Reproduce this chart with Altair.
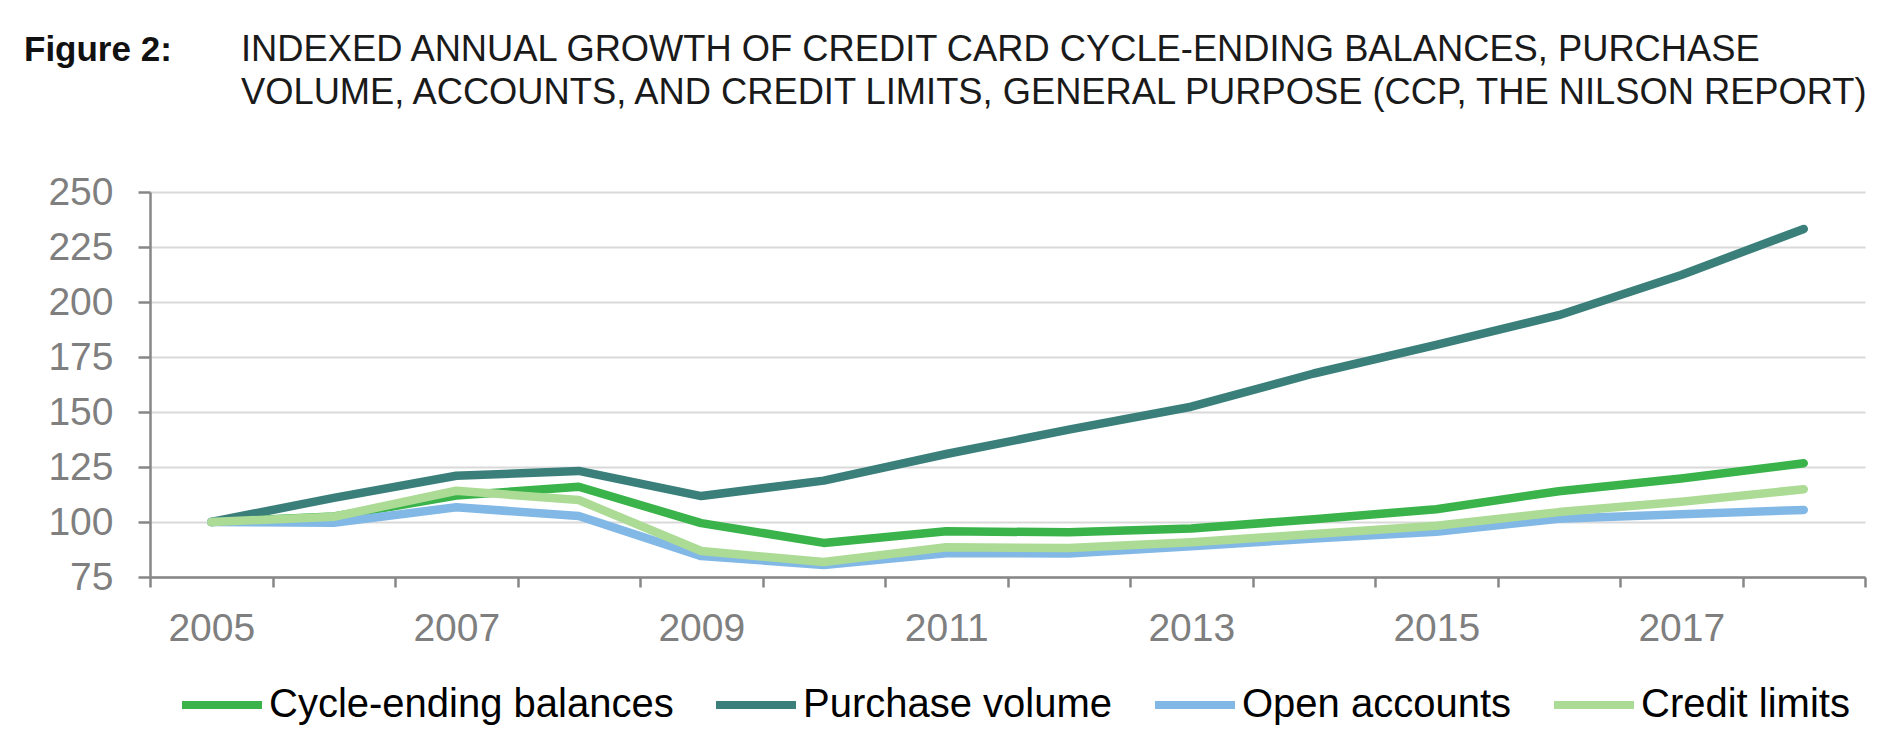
import altair as alt
import pandas as pd

FONT = "Liberation Sans, Arial, Helvetica, sans-serif"

# ---- data ----
years = [2005, 2006, 2007, 2008, 2009, 2010, 2011, 2012, 2013, 2014, 2015, 2016, 2017, 2018]
series_names = ["Cycle-ending balances", "Purchase volume", "Open accounts", "Credit limits"]
cycle_ending = [100, 102.5, 112, 116, 99.5, 90.5, 95.8, 95.3, 97, 101.3, 105.8, 114, 119.8, 126.7]
purchase_volume = [100, 111, 121, 123.2, 111.8, 118.8, 130.9, 142, 152.4, 167.5, 180.5, 194, 212.3, 233.2]
open_accounts = [100, 99.7, 106.7, 102.7, 84.5, 80.5, 85.8, 85.7, 89, 92.5, 95.6, 101.5, 103.5, 105.5]
credit_limits = [100, 102.4, 114.2, 110, 86.8, 81.8, 88.5, 88.2, 90.8, 94.5, 98.3, 104.5, 109.2, 114.9]
series_colors = ["#39b34a", "#3a7f7a", "#82b8e5", "#acdb96"]

y_ticks = [75, 100, 125, 150, 175, 200, 225, 250]
x_label_years = [2005, 2007, 2009, 2011, 2013, 2015, 2017]
x_band_edges = [2004.5, 2005.5, 2006.5, 2007.5, 2008.5, 2009.5, 2010.5, 2011.5,
                2012.5, 2013.5, 2014.5, 2015.5, 2016.5, 2017.5, 2018.5]

figure_label = "Figure 2:"
title_lines = [
    "INDEXED ANNUAL GROWTH OF CREDIT CARD CYCLE-ENDING BALANCES, PURCHASE",
    "VOLUME, ACCOUNTS, AND CREDIT LIMITS, GENERAL PURPOSE (CCP, THE NILSON REPORT)",
]

# ---- build table ----
rows = []
for name, vals in zip(series_names, [cycle_ending, purchase_volume, open_accounts, credit_limits]):
    for yr, v in zip(years, vals):
        rows.append({"series": name, "year": yr, "value": v})
df = pd.DataFrame(rows)

AXIS_GRAY = "#878787"
LABEL_GRAY = "#7f7f7f"

x_axis = alt.Axis(
    values=sorted(x_band_edges + x_label_years),
    title=None,
    grid=False,
    domainColor=AXIS_GRAY,
    domainWidth=2.5,
    tickColor=AXIS_GRAY,
    tickWidth=2.5,
    tickSize=10,
    tickOpacity={"condition": {"test": "datum.value % 1 === 0", "value": 0}, "value": 1},
    labelExpr="datum.value % 1 === 0 ? format(datum.value, 'd') : ''",
    labelFont=FONT,
    labelFontSize=39,
    labelColor=LABEL_GRAY,
    labelPadding=22,
    labelOverlap=False,
    labelFlush=False,
)

y_axis = alt.Axis(
    values=y_ticks,
    title=None,
    grid=True,
    gridColor="#d9d9d9",
    gridWidth=2,
    domainColor=AXIS_GRAY,
    domainWidth=2.5,
    tickColor=AXIS_GRAY,
    tickWidth=2.5,
    tickSize=12,
    labelFont=FONT,
    labelFontSize=39,
    labelColor=LABEL_GRAY,
    labelPadding=25,
)

legend = alt.Legend(
    title=None,
    orient="none",
    legendX=28,
    legendY=469,
    direction="horizontal",
    symbolType="stroke",
    symbolSize=6400,
    symbolStrokeWidth=8,
    labelFont=FONT,
    labelFontSize=40,
    labelColor="#000000",
    labelLimit=1000,
    labelOffset=3,
    columnPadding=26,
    padding=0,
)

lines = alt.Chart(df).mark_line(strokeWidth=8.5, strokeCap="round", strokeJoin="round").encode(
    x=alt.X("year:Q", scale=alt.Scale(domain=[2004.5, 2018.5], nice=False, zero=False), axis=x_axis),
    y=alt.Y("value:Q", scale=alt.Scale(domain=[75, 250], nice=False, zero=False), axis=y_axis),
    color=alt.Color("series:N", scale=alt.Scale(domain=series_names, range=series_colors),
                    sort=series_names, legend=legend),
)

fig_label = alt.Chart(pd.DataFrame({"label": [figure_label]})).mark_text(
    align="left", baseline="alphabetic", font=FONT, fontSize=35, fontWeight="bold", color="#111111"
).encode(
    x=alt.value(-126),
    y=alt.value(-131),
    text="label:N",
)

title_text = alt.Chart(pd.DataFrame({"label": ["\n".join(title_lines)]})).mark_text(
    align="left", baseline="alphabetic", font=FONT, fontSize=36.3, fontWeight="normal",
    color="#1a1a1a", lineBreak="\n", lineHeight=43
).encode(
    x=alt.value(91),
    y=alt.value(-131),
    text="label:N",
)

chart = alt.layer(lines, fig_label, title_text).properties(
    width=1715,
    height=385,
    autosize=alt.AutoSizeParams(type="none"),
    padding={"left": 142, "top": 184, "right": 15, "bottom": 155},
).configure_view(stroke=None)

chart.save("out.html", embed_options={"renderer": "svg", "actions": False})
